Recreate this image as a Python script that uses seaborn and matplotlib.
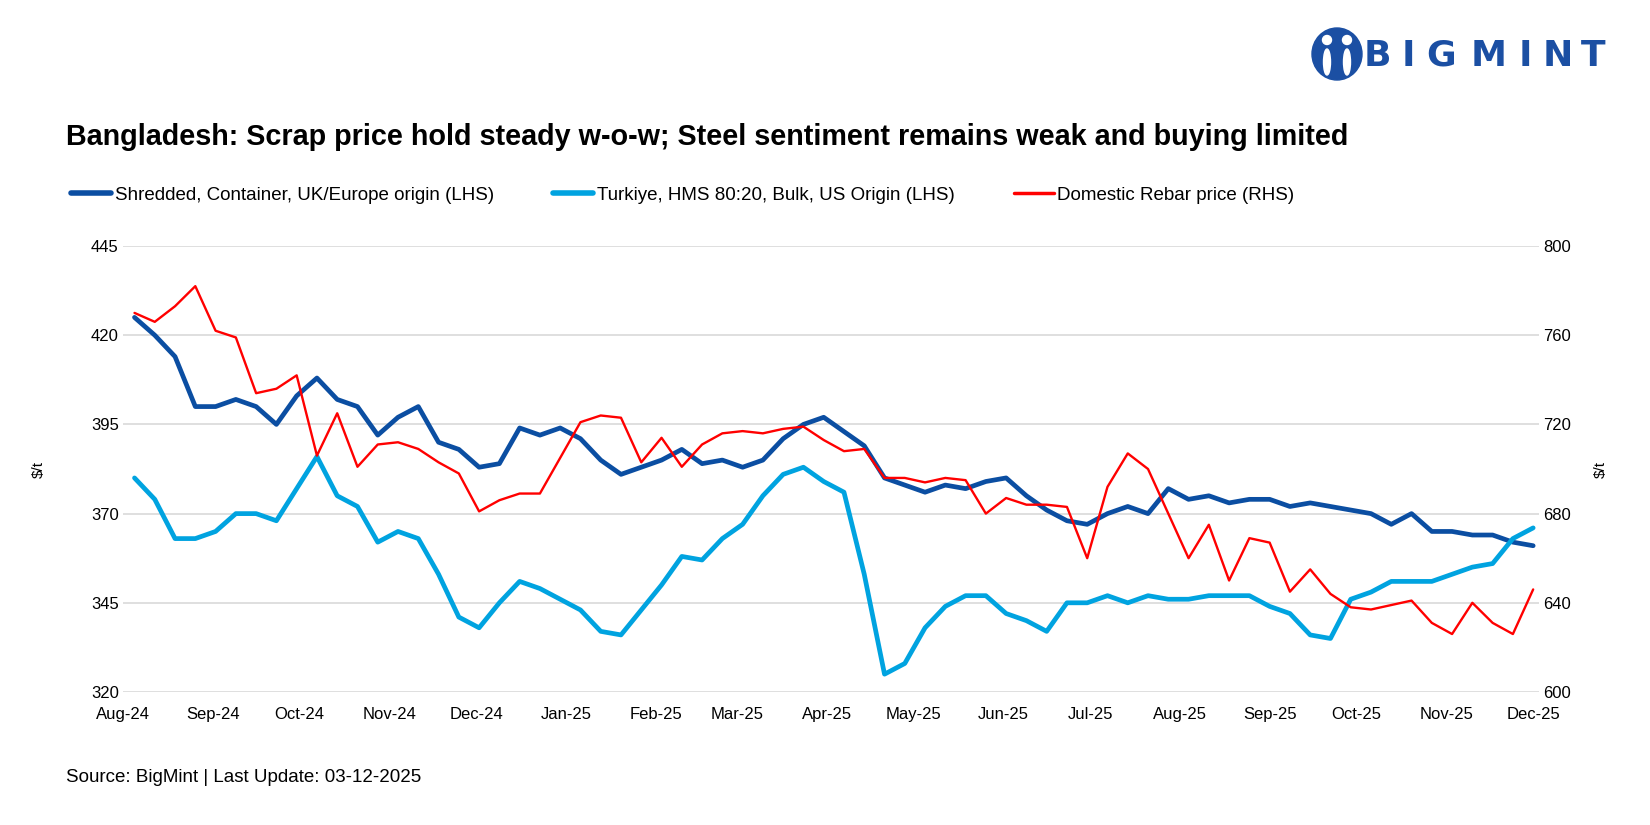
import numpy as np
import pandas as pd
import matplotlib
matplotlib.use("Agg")
import matplotlib.pyplot as plt
import matplotlib.dates as mdates
from matplotlib.lines import Line2D
from matplotlib.patches import Ellipse
import seaborn as sns

# weekly prices, Aug-24 .. Dec-25
shredded = [425, 420, 414, 400, 400, 402, 400, 395, 403, 408, 402, 400,
            392, 397, 400, 390, 388, 383, 384, 394, 392, 394, 391, 385,
            381, 383, 385, 388, 384, 385, 383, 385, 391, 395, 397, 393,
            389, 380, 378, 376, 378, 377, 379, 380, 375, 371, 368, 367,
            370, 372, 370, 377, 374, 375, 373, 374, 374, 372, 373, 372,
            371, 370, 367, 370, 365, 365, 364, 364, 362, 361]
turkiye = [380, 374, 363, 363, 365, 370, 370, 368, 377, 386, 375, 372,
           362, 365, 363, 353, 341, 338, 345, 351, 349, 346, 343, 337,
           336, 343, 350, 358, 357, 363, 367, 375, 381, 383, 379, 376,
           353, 325, 328, 338, 344, 347, 347, 342, 340, 337, 345, 345,
           347, 345, 347, 346, 346, 347, 347, 347, 344, 342, 336, 335,
           346, 348, 351, 351, 351, 353, 355, 356, 363, 366]
rebar = [770, 766, 773, 782, 762, 759, 734, 736, 742, 706, 725, 701,
         711, 712, 709, 703, 698, 681, 686, 689, 689, 705, 721, 724,
         723, 703, 714, 701, 711, 716, 717, 716, 718, 719, 713, 708,
         709, 696, 696, 694, 696, 695, 680, 687, 684, 684, 683, 660,
         692, 707, 700, 680, 660, 675, 650, 669, 667, 645, 655, 644,
         638, 637, 639, 641, 631, 626, 640, 631, 626, 646]
week_start = "2024-08-05"

names = ["Shredded, Container, UK/Europe origin (LHS)",
         "Turkiye, HMS 80:20, Bulk, US Origin (LHS)",
         "Domestic Rebar price (RHS)"]
colors = ["#0B4EA2", "#00A3E0", "#FF0000"]

df = pd.DataFrame({
    "date": pd.date_range(week_start, periods=len(shredded), freq="7D"),
    "shredded": shredded,
    "turkiye": turkiye,
    "rebar": rebar,
})

sns.set_theme(style="white")
plt.rcParams["font.family"] = ["Liberation Sans", "DejaVu Sans"]
plt.rcParams["text.color"] = "black"

fig = plt.figure(figsize=(16.5, 8.25), dpi=100)
ax = fig.add_axes([0.0745, 0.1612, 0.8582, 0.5406])
ax2 = ax.twinx()

sns.lineplot(data=df, x="date", y="shredded", ax=ax, color=colors[0], lw=3.4)
sns.lineplot(data=df, x="date", y="turkiye", ax=ax, color=colors[1], lw=3.4)
sns.lineplot(data=df, x="date", y="rebar", ax=ax2, color=colors[2], lw=1.7)

ax.set_ylim(320, 445)
ax.set_yticks(np.arange(320, 446, 25))
ax2.set_ylim(600, 800)
ax2.set_yticks(np.arange(600, 801, 40))
ax.set_xlim(pd.Timestamp("2024-08-01"), pd.Timestamp("2025-12-03"))
ax.xaxis.set_major_locator(mdates.MonthLocator())
ax.xaxis.set_major_formatter(mdates.DateFormatter("%b-%y"))

ax.grid(axis="y", color="#D9D9D9", lw=1.2)
ax.grid(axis="x", visible=False)
ax2.grid(False)
for a in (ax, ax2):
    for s in a.spines.values():
        s.set_visible(False)
    a.set_xlabel("")
    a.set_ylabel("")
    a.tick_params(length=0, labelsize=12, colors="black")
ax.tick_params(axis="y", pad=3)
ax2.tick_params(axis="y", pad=3)
ax.tick_params(axis="x", pad=11)

fig.text(0.0236, 0.4315, "$/t", rotation=90, ha="center", va="center", fontsize=11)
fig.text(0.970, 0.4315, "$/t", rotation=90, ha="center", va="center", fontsize=11)

fig.text(0.04, 0.834, "Bangladesh: Scrap price hold steady w-o-w; Steel sentiment remains weak and buying limited",
         fontsize=20.7, fontweight="bold", ha="left", va="center")

handles = [Line2D([], [], color=colors[0], lw=4),
           Line2D([], [], color=colors[1], lw=4),
           Line2D([], [], color=colors[2], lw=2.5)]
fig.legend(handles, names, loc="center left", bbox_to_anchor=(0.0432, 0.7636),
           ncol=3, frameon=False, fontsize=13.5, handlelength=2.13,
           handletextpad=0.2, columnspacing=3.15, borderpad=0, borderaxespad=0)

fig.text(0.04, 0.058, "Source: BigMint | Last Update: 03-12-2025", fontsize=13.5,
         ha="left", va="center")

# logo
logo_blue = "#1B4FA3"
fig.patches.append(Ellipse((1337 / 1650, 1 - 54 / 825), 50 / 1650, 52 / 825,
                           transform=fig.transFigure, color=logo_blue))
for cx in (1327, 1347):
    fig.patches.append(Ellipse((cx / 1650, 1 - 40 / 825), 9 / 1650, 9 / 825,
                               transform=fig.transFigure, color="white"))
    fig.patches.append(Ellipse((cx / 1650, 1 - 62 / 825), 7 / 1650, 26 / 825,
                               transform=fig.transFigure, color="white"))
for ch, cx in zip("BIGMINT", [1377, 1408, 1441, 1489, 1525, 1558, 1593]):
    fig.text(cx / 1650, 1 - 56 / 825, ch, fontsize=26, fontweight="heavy",
             family="DejaVu Sans", color=logo_blue, ha="center", va="center")

fig.savefig("out.png", dpi=100, facecolor="white")
